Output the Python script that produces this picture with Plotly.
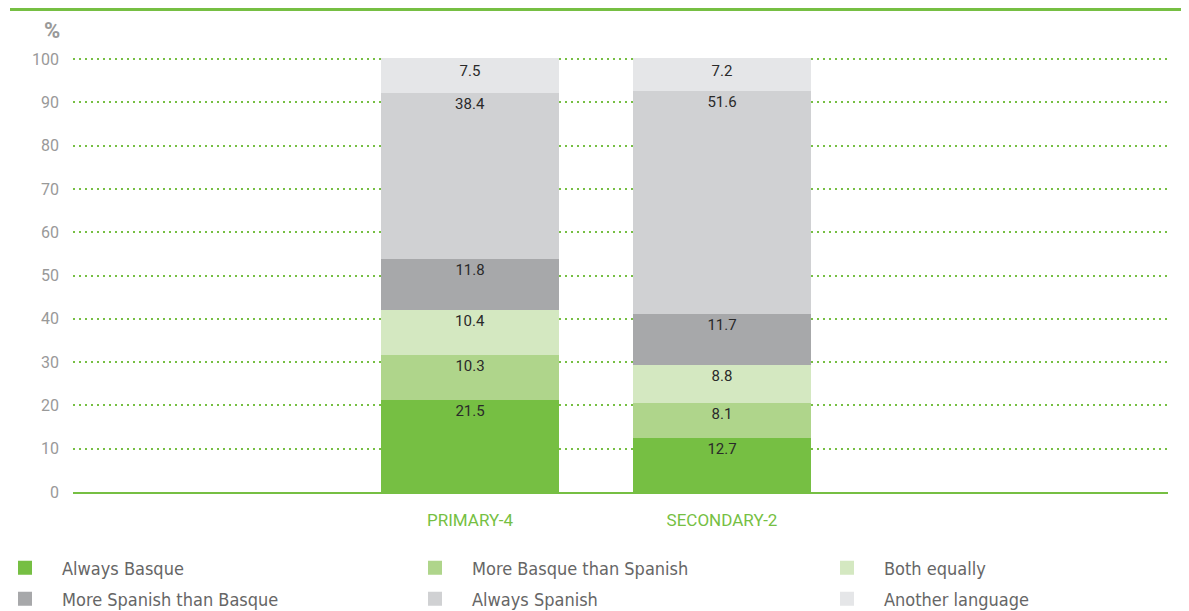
import plotly.graph_objects as go

categories = ["PRIMARY-4", "SECONDARY-2"]
series_names = ["Always Basque", "More Basque than Spanish", "Both equally",
                "More Spanish than Basque", "Always Spanish", "Another language"]
always_basque = [21.5, 12.7]
more_basque = [10.3, 8.1]
both_equally = [10.4, 8.8]
more_spanish = [11.8, 11.7]
always_spanish = [38.4, 51.6]
another_language = [7.5, 7.2]
colors = ["#76BF43", "#AFD58B", "#D4E8C1", "#A7A8AA", "#D0D1D3", "#E5E6E8"]
y_ticks = [0, 10, 20, 30, 40, 50, 60, 70, 80, 90, 100]

series_values = [always_basque, more_basque, both_equally, more_spanish,
                 always_spanish, another_language]

# figure coordinates (page has an 8px body margin)
FW, FH = 1181, 603
L, R = 65, 1160
Y0, Y100 = 484, 51
PPU = (Y0 - Y100) / 100.0
T = 48
H = Y0 - T
W = R - L
ymax = H / PPU


def px_y(py):
    return (Y0 - py) / H


def px_x(px):
    return (px - L) / W


legend_ids = ["legend", "legend2", "legend3", "legend4", "legend5", "legend6"]
legend_cols = [-20, 390, 802]
legend_rows = [560, 591]

fig = go.Figure()
for i, (name, vals, col) in enumerate(zip(series_names, series_values, colors)):
    fig.add_trace(go.Bar(
        x=categories, y=vals, name=name,
        marker=dict(color=col, line=dict(width=2, color=col)),
        text=[f"{v:.1f}" for v in vals],
        textposition="inside", insidetextanchor="end",
        textfont=dict(color="#2a2a2a", size=15, family="Roboto"),
        width=0.70, cliponaxis=False,
        legend=legend_ids[i],
    ))

leg_common = dict(orientation="h", xanchor="left", yanchor="middle",
                  itemwidth=64, bgcolor="rgba(0,0,0,0)",
                  font=dict(family="DejaVu Sans Condensed", size=18, color="#666666"),
                  itemclick=False, itemdoubleclick=False)

legends = {}
for i, lid in enumerate(legend_ids):
    legends[lid] = dict(x=px_x(legend_cols[i % 3]), y=px_y(legend_rows[i // 3]),
                        **leg_common)

fig.update_layout(
    barmode="stack",
    width=FW, height=FH,
    margin=dict(l=L, r=FW - R, t=T, b=FH - Y0, autoexpand=False),
    plot_bgcolor="white", paper_bgcolor="white",
    font=dict(family="Roboto", color="#999999"),
    showlegend=True,
    xaxis=dict(range=[-(462 - L) / 252, 1 + (R - 714) / 252], showline=True,
               linecolor="#76BF43", linewidth=2, showgrid=False, ticks="",
               ticklabelstandoff=12,
               tickfont=dict(color="#76BF43", size=17, family="Roboto"),
               fixedrange=True),
    yaxis=dict(range=[0, ymax], tickvals=y_ticks, showgrid=True,
               gridcolor="#76BF43", griddash="2px,4px", gridwidth=2,
               zeroline=False, ticks="", ticklabelstandoff=13,
               tickfont=dict(color="#999999", size=16, family="Roboto"),
               fixedrange=True),
    **legends,
)
fig.add_shape(type="line", xref="paper", yref="paper",
              x0=px_x(2), x1=px_x(FW),
              y0=px_y(1.5), y1=px_y(1.5),
              line=dict(color="#76BF43", width=3))
fig.add_annotation(text="<b>%</b>", xref="paper", yref="paper",
                   x=px_x(54), xanchor="right",
                   y=px_y(22.5), yanchor="middle", showarrow=False,
                   font=dict(size=22, color="#999999", family="Roboto"))
fig.write_html("out.html")
